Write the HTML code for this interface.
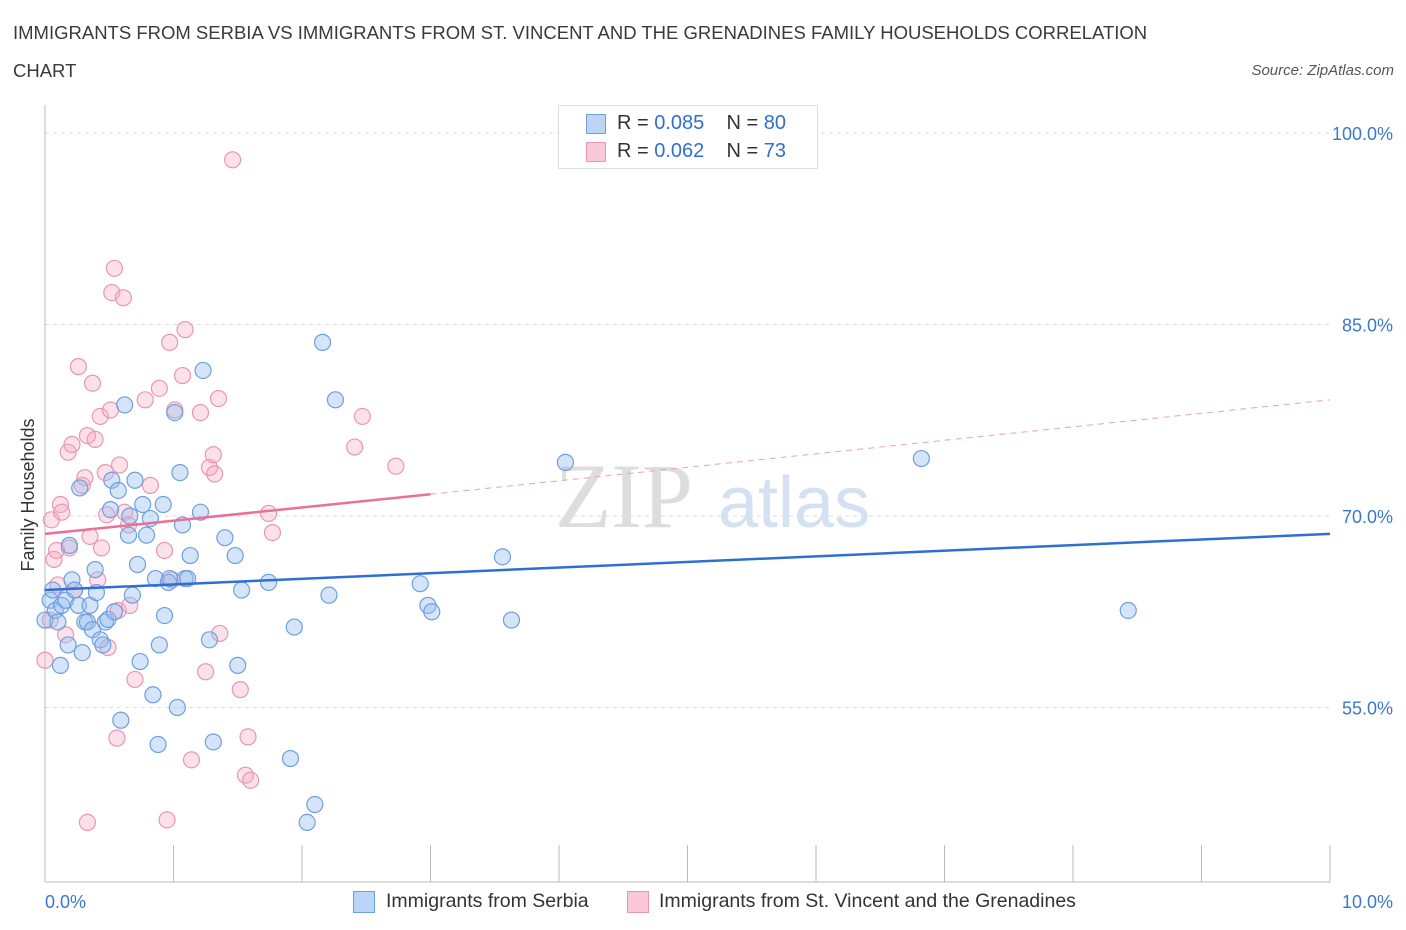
<!DOCTYPE html>
<html><head><meta charset="utf-8"><style>
body{margin:0;background:#fff;font-family:"Liberation Sans",sans-serif;}
#wrap{position:relative;width:1406px;height:930px;overflow:hidden;}
.t{position:absolute;color:#333;}
</style></head><body>
<div id="wrap">
<div class="t" style="left:13px;top:14px;font-size:18.5px;line-height:38px;width:1180px;color:#3a3a3a">IMMIGRANTS FROM SERBIA VS IMMIGRANTS FROM ST. VINCENT AND THE GRENADINES FAMILY HOUSEHOLDS CORRELATION CHART</div>
<div class="t" style="right:12px;top:62px;font-size:15px;font-style:italic;color:#555">Source: ZipAtlas.com</div>
<svg id="svg" width="1406" height="930" style="position:absolute;left:0;top:0"></svg>
</div>
<script>
const yTicks=[100,85,70,55];
const xTickLabels=["0.0%","10.0%"];
const serbiaX=[0,0.04,0.06,0.08,0.10,0.12,0.13,0.16,0.18,0.19,0.21,0.23,0.26,0.27,0.29,0.31,0.33,0.35,0.37,0.39,0.40,0.43,0.45,0.47,0.49,0.51,0.52,0.54,0.57,0.59,0.62,0.65,0.66,0.68,0.70,0.72,0.74,0.76,0.79,0.82,0.84,0.86,0.88,0.89,0.92,0.93,0.96,0.97,1.01,1.03,1.05,1.07,1.09,1.11,1.13,1.21,1.23,1.28,1.31,1.40,1.48,1.50,1.53,1.74,1.91,1.94,2.04,2.10,2.16,2.21,2.26,2.92,2.98,3.01,3.56,3.63,4.05,6.82,8.43];
const serbiaY=[61.85,63.4,64.2,62.6,61.7,58.3,63.0,63.4,59.9,67.7,65.0,64.2,63.0,72.2,59.3,61.7,61.7,63.0,61.1,65.8,64.0,60.3,59.9,61.7,61.9,70.5,72.8,62.5,72.0,54.0,78.7,68.5,70.0,63.8,72.8,66.2,58.6,70.9,68.5,69.8,56.0,65.1,52.1,59.9,70.9,62.2,64.8,65.1,78.1,55.0,73.4,69.3,65.1,65.1,66.9,70.3,81.4,60.3,52.3,68.3,66.9,58.3,64.2,64.8,51.0,61.3,46.0,47.4,83.6,63.8,79.1,64.7,63.0,62.5,66.8,61.85,74.2,74.5,62.6];
const vinX=[0,0.04,0.05,0.07,0.09,0.10,0.12,0.13,0.16,0.18,0.19,0.21,0.23,0.26,0.29,0.31,0.33,0.33,0.35,0.37,0.39,0.41,0.43,0.44,0.47,0.48,0.49,0.51,0.52,0.54,0.56,0.57,0.58,0.61,0.62,0.65,0.66,0.70,0.78,0.82,0.89,0.93,0.95,0.97,0.99,1.01,1.07,1.09,1.14,1.21,1.25,1.28,1.31,1.32,1.35,1.36,1.46,1.52,1.56,1.58,1.60,1.74,1.77,2.41,2.47,2.73];
const vinY=[58.7,61.85,69.7,66.6,67.3,64.6,70.9,70.3,60.7,75.0,67.5,75.6,64.2,81.7,72.4,73.0,46.0,76.3,68.4,80.4,76.0,65.0,77.8,67.5,73.4,70.1,59.7,78.3,87.5,89.4,52.6,62.6,74.0,87.1,70.3,69.3,63.0,57.2,79.1,72.4,80.0,67.3,46.2,83.6,65.0,78.3,81.0,84.6,50.9,78.1,57.8,73.8,74.8,73.3,79.2,60.8,97.9,56.4,49.7,52.7,49.3,70.2,68.7,75.4,77.8,73.9];
const NS="http://www.w3.org/2000/svg";
const svg=document.getElementById('svg');
const L=45,R=1330,B=882;
function xs(v){return L+v*(R-L)/10;}
function ys(v){return 133+(100-v)*191.5/15;}
function mk(tag,a){const e=document.createElementNS(NS,tag);for(const k in a)e.setAttribute(k,a[k]);svg.appendChild(e);return e;}
yTicks.forEach(v=>{
 const g=mk('line',{x1:L,x2:R,y1:ys(v),y2:ys(v),stroke:'#ddd','stroke-dasharray':'4,4'});
 
 
 const t=mk('text',{x:1393,y:ys(v)+7,'text-anchor':'end','font-size':18,fill:'#3a78d0','font-family':'Liberation Sans'});
 t.textContent=v.toFixed(1)+'%';
 
 
});
mk('line',{x1:L,x2:L,y1:105,y2:B,stroke:'#bbb'});
mk('line',{x1:L,x2:R,y1:B,y2:B,stroke:'#bbb'});
for(let i=0;i<=10;i++){const tk=mk('line',{x1:xs(i),x2:xs(i),y1:845,y2:B,stroke:'#bbb'});
 
 }
xTickLabels.forEach((s,i)=>{const t=mk('text',{x:i?1393:45,y:908,'text-anchor':i?'end':'start','font-size':18,fill:'#3a78d0','font-family':'Liberation Sans'});t.textContent=s;
 
 });
const yl=mk('text',{x:34,y:495,transform:'rotate(-90 34 495)','text-anchor':'middle','font-size':18,fill:'#333','font-family':'Liberation Sans'});yl.textContent='Family Households';


const w1=mk('text',{x:555,y:527,'font-size':92,fill:'#ddd','font-family':'Liberation Serif'});w1.textContent='ZIP';


const w2=mk('text',{x:718,y:527,'font-size':72,fill:'#d3e1f3','font-family':'Liberation Sans'});w2.textContent='atlas';


function pts(X,Y,fill,stroke,name){X.forEach((x,i)=>{const c=mk('circle',{cx:xs(x),cy:ys(Y[i]),r:8,fill:fill,stroke:stroke,'stroke-width':1.2});
 
 });}
pts(vinX,vinY,'rgba(245,170,195,0.35)','#e896b4','point-st-vincent');
pts(serbiaX,serbiaY,'rgba(150,190,240,0.4)','#6e9fde','point-serbia');
const tb=mk('line',{x1:xs(0),y1:ys(64.2),x2:xs(10),y2:ys(68.6),stroke:'#2f6fd3','stroke-width':2.5});

const tp=mk('line',{x1:xs(0),y1:ys(68.6),x2:xs(3),y2:ys(71.7),stroke:'#e8709a','stroke-width':2.5});

const td=mk('line',{x1:xs(3),y1:ys(71.7),x2:xs(10),y2:ys(79.1),stroke:'#e8a0b8','stroke-width':1,'stroke-dasharray':'6,5'});

</script>
<div style="position:absolute;left:558px;top:105px;width:258px;height:62px;border:1px solid #ddd;background:#fff;font-size:20px;color:#333">
 <div style="position:absolute;left:27px;top:8px;width:18px;height:18px;background:#bcd4f6;border:1px solid #6e9fde"></div>
 <div style="position:absolute;left:58px;top:6px">R = <span style="color:#2f6fd3">0.085</span>&nbsp;&nbsp;&nbsp; N = <span style="color:#2f6fd3">80</span></div>
 <div style="position:absolute;left:27px;top:36px;width:18px;height:18px;background:#f9c9d8;border:1px solid #e896b4"></div>
 <div style="position:absolute;left:58px;top:34px">R = <span style="color:#2f6fd3">0.062</span>&nbsp;&nbsp;&nbsp; N = <span style="color:#2f6fd3">73</span></div>
</div>
<div style="position:absolute;left:0;top:889px;width:1406px;font-size:19.5px;color:#333">
 <div style="position:absolute;left:353px;top:0">
  <span style="position:absolute;left:0;top:2px;width:20px;height:20px;background:#bcd4f6;border:1px solid #6e9fde"></span>
  <span style="position:absolute;left:33px;top:1px;white-space:nowrap">Immigrants from Serbia</span></div>
 <div style="position:absolute;left:627px;top:0">
  <span style="position:absolute;left:0;top:2px;width:20px;height:20px;background:#f9c9d8;border:1px solid #e896b4"></span>
  <span style="position:absolute;left:32px;top:1px;white-space:nowrap">Immigrants from St. Vincent and the Grenadines</span></div>
</div>
</body></html>
